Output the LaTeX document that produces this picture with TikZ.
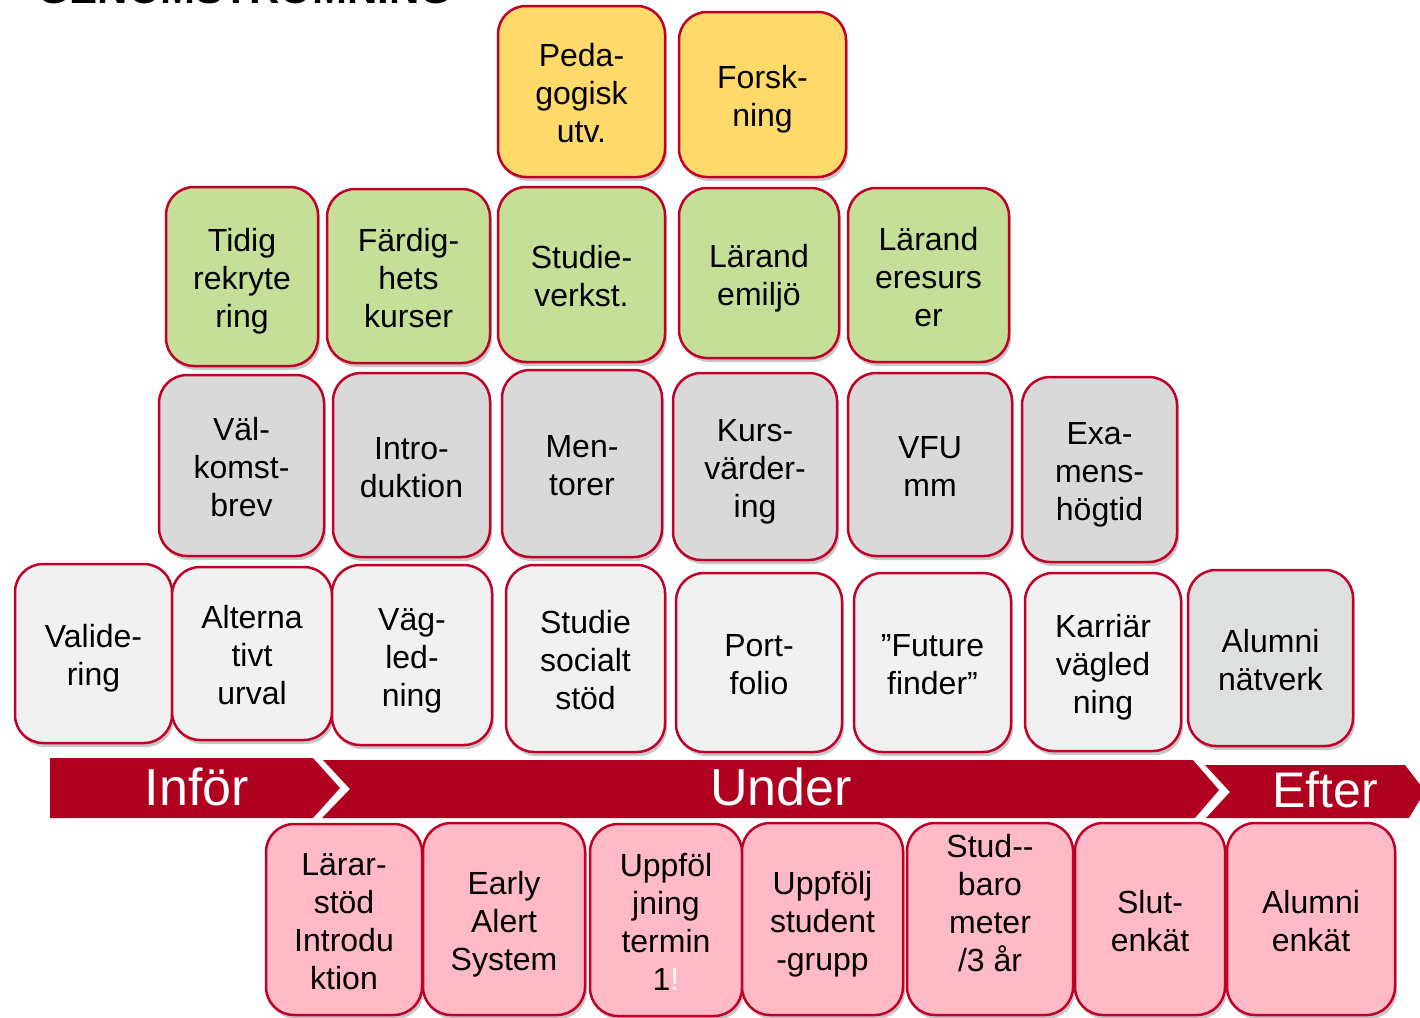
\documentclass[tikz,border=0pt]{standalone}
\usepackage{fontspec}
\setmainfont{Liberation Sans}
\usepackage{xcolor}
\usetikzlibrary{shadows}
\definecolor{cardred}{RGB}{192,0,39}
\definecolor{bannerred}{RGB}{175,0,32}
\definecolor{goldfill}{RGB}{255,217,106}
\definecolor{limefill}{RGB}{197,222,152}
\definecolor{greyfill}{RGB}{217,217,217}
\definecolor{palefill}{RGB}{241,241,241}
\definecolor{alumfill}{RGB}{222,224,224}
\definecolor{pinkfill}{RGB}{255,185,199}
\newcommand{\cardlines}[1]{\rule{0pt}{33pt}#1\rule[-7pt]{0pt}{7pt}}
\tikzstyle{cardtext}=[shape=rectangle, inner sep=0pt, align=center, text=black, font=\fontsize{32}{38}\selectfont]
\tikzstyle{cardnode}=[cardtext, draw=cardred, line width=2.5pt, rounded corners=28pt, drop shadow={shadow xshift=2pt, shadow yshift=-4pt, opacity=0.22, fill=black}]
\tikzstyle{phasetext}=[shape=rectangle, inner sep=0pt, anchor=base, text=white, font=\fontsize{52}{52}\selectfont]

\begin{document}
\begin{tikzpicture}[x=1pt, y=-1pt]
\useasboundingbox (0,0) rectangle (1420,1017);
\clip (0,0) rectangle (1420,1017);
\node [shape=rectangle, inner sep=0pt, anchor=base west, font=\bfseries\fontsize{42}{42}\selectfont] (heading) at (37,4) {GENOMSTRÖMNING};

\node [cardnode, fill=goldfill, minimum width=167pt, minimum height=171pt] (peda) at (581.5,91.5) {\cardlines{Peda-\\gogisk\\utv.}};
\node [cardnode, fill=goldfill, minimum width=167pt, minimum height=165pt] (forsk) at (762.5,94.5) {\cardlines{Forsk-\\ning}};

\node [cardnode, fill=limefill, minimum width=152pt, minimum height=179pt] (tidig) at (242,276.5) {\cardlines{Tidig\\rekryte\\ring}};
\node [cardnode, fill=limefill, minimum width=163pt, minimum height=174pt] (fardig) at (408.5,276) {\cardlines{Färdig-\\hets\\kurser}};
\node [cardnode, fill=limefill, minimum width=167pt, minimum height=175pt] (studverk) at (581.5,274.5) {\cardlines{Studie-\\verkst.}};
\node [cardnode, fill=limefill, minimum width=160pt, minimum height=170pt] (larmiljo) at (759,273) {\cardlines{Lärand\\emiljö}};
\node [cardnode, fill=limefill, minimum width=161pt, minimum height=174pt] (larresurs) at (928.5,275) {\cardlines{Lärand\\eresurs\\er}};

\node [cardnode, fill=greyfill, minimum width=165pt, minimum height=181pt] (valkomst) at (241.5,465.5) {\cardlines{Väl-\\komst-\\brev}};
\node [cardnode, fill=greyfill, minimum width=157pt, minimum height=184pt] (intro) at (411.5,465) {\cardlines{Intro-\\duktion}};
\node [cardnode, fill=greyfill, minimum width=160pt, minimum height=187pt] (mentorer) at (582,463.5) {\cardlines{Men-\\torer}};
\node [cardnode, fill=greyfill, minimum width=164pt, minimum height=187pt] (kursvard) at (755,466.5) {\cardlines{Kurs-\\värder-\\ing}};
\node [cardnode, fill=greyfill, minimum width=164pt, minimum height=183pt] (vfu) at (930,464.5) {\cardlines{VFU\\mm}};
\node [cardnode, fill=greyfill, minimum width=155pt, minimum height=185pt] (examen) at (1099.5,469.5) {\cardlines{Exa-\\mens-\\högtid}};

\node [cardnode, fill=palefill, minimum width=157pt, minimum height=179pt] (validering) at (93.5,653.5) {\cardlines{Valide-\\ring}};
\node [cardnode, fill=palefill, minimum width=160pt, minimum height=173pt] (alturval) at (252,653.5) {\cardlines{Alterna\\tivt\\urval}};
\node [cardnode, fill=palefill, minimum width=160pt, minimum height=180pt] (vagledning) at (412,655) {\cardlines{Väg-\\led-\\ning}};
\node [cardnode, fill=palefill, minimum width=159pt, minimum height=187pt] (socstod) at (585.5,658.5) {\cardlines{Studie\\socialt\\stöd}};
\node [cardnode, fill=palefill, minimum width=166pt, minimum height=179pt] (portfolio) at (759,662.5) {\cardlines{Port-\\folio}};
\node [cardnode, fill=palefill, minimum width=157pt, minimum height=179pt] (future) at (932.5,662.5) {\cardlines{”Future\\finder”}};
\node [cardnode, fill=palefill, minimum width=156pt, minimum height=178pt] (karriar) at (1103,662) {\cardlines{Karriär\\vägled\\ning}};
\node [cardnode, fill=alumfill, minimum width=165pt, minimum height=176pt] (alumninat) at (1270.5,658) {\cardlines{Alumni\\nätverk}};

\fill [bannerred] (50,758) -- (313,758) -- (340,788) -- (313,818) -- (50,818) -- cycle;
\fill [bannerred] (323,760) -- (1193,760) -- (1219,790) -- (1195,818) -- (322,818) -- (350,789) -- cycle;
\fill [bannerred] (1205,765) -- (1405,765) -- (1425,791) -- (1409,818) -- (1206,818) -- (1230,792) -- cycle;
\node [phasetext] (infor) at (197,805) {Inför};
\node [phasetext] (under) at (781,805) {Under};
\node [phasetext, font=\fontsize{50}{50}\selectfont] (efter) at (1325,807) {Efter};

\node [cardnode, fill=pinkfill, minimum width=156pt, minimum height=191pt] (lararstod) at (344,919.5) {\cardlines{Lärar-\\stöd\\Introdu\\ktion}};
\node [cardnode, fill=pinkfill, minimum width=162pt, minimum height=192pt] (earlyalert) at (504,919) {\cardlines{Early\\Alert\\System}};
\node [cardnode, fill=pinkfill, minimum width=152pt, minimum height=192pt] (uppfterm) at (666,920) {\cardlines{Uppföl\\jning\\termin\\1{\color{white}!}}};
\node [cardnode, fill=pinkfill, minimum width=161pt, minimum height=192pt] (uppfgrupp) at (822.5,919) {\cardlines{Uppfölj\\student\\-grupp}};
\node [cardnode, fill=pinkfill, minimum width=166pt, minimum height=192pt] (studbaro) at (990,919) {};
\node [cardtext] (studbarotext) at (990,901) {\cardlines{Stud-{}-\\baro\\meter\\/3 år}};
\node [cardnode, fill=pinkfill, minimum width=150pt, minimum height=192pt] (slutenkat) at (1150,919) {\cardlines{Slut-\\enkät}};
\node [cardnode, fill=pinkfill, minimum width=168pt, minimum height=192pt] (alumnienk) at (1311,919) {\cardlines{Alumni\\enkät}};
\end{tikzpicture}
\end{document}
